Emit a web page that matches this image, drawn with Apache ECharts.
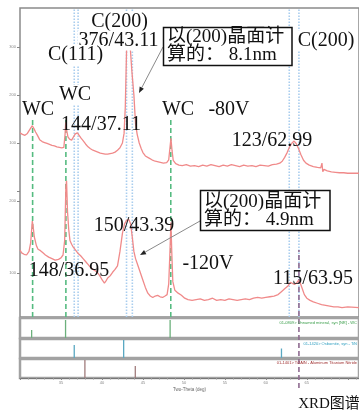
<!DOCTYPE html>
<html><head><meta charset="utf-8">
<script src="https://cdn.jsdelivr.net/npm/echarts@6/dist/echarts.min.js"></script>
<style>html,body{margin:0;padding:0;background:#fff}#c{width:359px;height:412px}</style>
</head><body><div id="c"></div>
<script>
// ---- data (2θ in degrees, intensity in counts) ----
const twoThetaUpper = [30.0,30.3,30.6,30.9,31.1,31.3,31.5,31.7,31.9,32.1,32.4,32.7,33.0,33.3,33.6,33.9,34.2,34.5,34.8,35.1,35.35,35.5,35.58,35.68,35.85,36.05,36.3,36.5,36.75,37.0,37.2,37.45,37.7,38.0,38.3,38.6,38.9,39.2,39.5,39.8,40.1,40.4,40.7,41.0,41.3,41.6,41.9,42.2,42.5,42.7,42.85,43.0,43.15,43.3,43.45,43.65,43.9,44.1,44.3,44.55,44.8,45.0,45.3,45.7,46.1,46.5,47.0,47.5,47.9,48.15,48.3,48.42,48.55,48.7,49.0,49.4,49.8,50.3,50.8,51.3,51.8,52.3,52.8,53.3,53.8,54.3,54.8,55.3,55.8,56.3,56.8,57.3,57.8,58.3,58.8,59.3,59.8,60.3,60.8,61.3,61.7,62.0,62.3,62.6,62.9,63.2,63.45,63.7,64.0,64.3,64.6,64.9,65.3,65.8,66.3,66.7,66.85,66.95,67.1,67.5,68.0,68.5,69.0,69.5,70.0,70.5,71.4];
const intensityUpper = [121,118,116,120,124,131,136,130,123,117,107,103,101,99,97,95,94,92,91,90,91,118,143,128,113,108,106,112,119,121,118,110,105,98,92,88,85,83,81,79,78,77,77,78,79,81,85,90,100,120,175,290,355,350,300,250,200,140,118,100,88,80,73,69,65,62,60,58,59,65,90,110,85,64,57,54,53,55,52,53,51,54,52,55,53,51,54,52,55,53,51,54,52,53,51,54,53,52,55,56,58,62,70,80,92,100,104,99,88,75,64,58,54,51,49,48,58,40,45,42,40,39,38,38,37,37,37];
const twoThetaLower = [30.0,30.2,30.5,30.8,31.1,31.3,31.5,31.6,31.75,32.0,32.2,32.5,32.8,33.1,33.5,33.9,34.3,34.7,35.0,35.25,35.45,35.6,35.68,35.8,35.95,36.1,36.3,36.5,36.7,36.9,37.1,37.4,37.7,38.0,38.3,38.6,38.9,39.2,39.5,39.8,40.05,40.3,40.5,40.7,41.0,41.3,41.6,41.9,42.2,42.5,42.75,43.0,43.3,43.5,43.7,43.9,44.1,44.4,44.7,45.0,45.3,45.6,45.9,46.2,46.5,46.8,47.1,47.4,47.7,47.95,48.15,48.3,48.42,48.52,48.65,48.9,49.3,49.7,50.1,50.5,51.0,51.5,52.0,52.5,53.0,53.5,54.0,54.5,55.0,55.5,56.0,56.5,57.0,57.5,58.0,58.5,59.0,59.5,60.0,60.5,61.0,61.5,61.9,62.3,62.7,63.0,63.2,63.5,63.75,64.0,64.2,64.45,64.7,65.0,65.4,65.8,66.3,66.8,67.3,67.8,68.3,68.8,69.3,70.0,71.4];
const intensityLower = [132,128,126,125,130,142,172,165,150,138,133,131,128,125,122,120,118,119,121,125,145,220,228,185,160,145,140,136,135,130,127,124,120,116,112,108,105,103,100,95,90,86,89,93,96,101,105,110,130,155,168,173,174,168,150,130,120,110,100,90,80,72,68,66,68,69,67,66,68,70,85,130,170,130,88,76,72,69,65,63,62,63,64,62,63,65,62,63,62,64,63,62,63,64,63,65,66,65,66,67,68,70,74,78,82,87,88,84,86,90,86,78,70,65,62,60,58,56,55,54,53,53,52,53,52];
const upperTicks = [100, 200, 300];
const lowerTicks = [100, 200];
const xTickLabels = [35, 40, 45, 50, 55, 60, 65];
const wcRefLines = [31.54, 35.6, 48.4];
const blueRefLines = [36.62, 37.09, 43.0, 43.71, 62.86, 64.04];
const purpleRefLines = [64.04];
const wcSticks = [31.42, 35.56, 48.32];
const wcStickHeights = [40, 90, 90];
const tinSticks = [36.62, 42.65, 61.91];
const tinStickHeights = [68, 95, 50];
const tialnSticks = [37.92, 44.07];
const tialnStickHeights = [95, 63];
const refNames = ['01-0809> Unnamed mineral, syn [NR] - WC', '01-1420> Osbornite, syn - TiN', '01-1401> Ti2AlN - Aluminum Titanium Nitride'];

// ---- chart ----
const chart = echarts.init(document.getElementById('c'), null, {renderer: 'canvas', width: 359, height: 412});
const X0 = 30, X1 = 30 + 350 / 8.46;
const zip = (a, b) => a.map((v, i) => [v, b[i]]);
const SERIF = '"Liberation Serif","Times New Roman",serif';
const CJK = '"Liberation Serif","Noto Sans CJK SC",serif';

const grids = [
  {left: 20, top: 8, width: 350, height: 309, show: true, borderColor: '#8a8a8a', borderWidth: 1.5}, // 0 frame
  {left: 20, top: 47, width: 350, height: 144},  // 1 upper trace
  {left: 20, top: 201, width: 350, height: 72},  // 2 lower trace
  {left: 20, top: 318, width: 350, height: 20, show: true, borderColor: '#a2a2a2', borderWidth: 2.5}, // 3
  {left: 20, top: 339, width: 350, height: 19, show: true, borderColor: '#a2a2a2', borderWidth: 2.5}, // 4
  {left: 20, top: 359, width: 350, height: 19, show: true, borderColor: '#a2a2a2', borderWidth: 2.5}, // 5
  {left: 20, top: 250, width: 350, height: 138} // 6 purple overlay
];
const xAxes = grids.map((g, i) => ({type: 'value', gridIndex: i, min: X0, max: X1, show: false}));
xAxes[5] = {
  type: 'value', gridIndex: 5, min: X0, max: X1, interval: 5, show: true,
  axisLine: {show: true, lineStyle: {color: '#777', width: 1}},
  axisTick: {show: true, length: 2, lineStyle: {color: '#888'}},
  minorTick: {show: true, splitNumber: 5, length: 1.5, lineStyle: {color: '#999'}},
  splitLine: {show: false},
  axisLabel: {fontSize: 4, color: '#888', margin: 3, showMaxLabel: false, showMinLabel: false,
    formatter: v => xTickLabels.indexOf(v) >= 0 ? String(v) : ''},
  name: 'Two-Theta (deg)', nameLocation: 'middle', nameGap: 9,
  nameTextStyle: {fontSize: 4.5, color: '#666', fontFamily: 'Liberation Sans'}
};
const yAxes = grids.map((g, i) => ({type: 'value', gridIndex: i, min: 0, max: i >= 3 && i <= 5 ? 100 : 1, show: false}));
yAxes[1] = {type: 'value', gridIndex: 1, min: 0, max: 300, interval: 100, show: true,
  axisLine: {show: false}, splitLine: {show: false},
  axisTick: {show: true, length: 3, lineStyle: {color: '#888'}},
  axisLabel: {fontSize: 4, color: '#888', margin: 4, formatter: v => upperTicks.indexOf(v) >= 0 ? String(v) : ''}};
yAxes[2] = {type: 'value', gridIndex: 2, min: 100, max: 200, interval: 100, show: true,
  axisLine: {show: false}, splitLine: {show: false},
  axisTick: {show: true, length: 3, lineStyle: {color: '#888'}},
  axisLabel: {fontSize: 4, color: '#888', margin: 4, formatter: v => lowerTicks.indexOf(v) >= 0 ? String(v) : ''}};

const series = [];
blueRefLines.forEach(x => series.push({type: 'line', xAxisIndex: 0, yAxisIndex: 0, data: [[x, 0], [x, 1]], symbol: 'none', silent: true, z: 1,
  lineStyle: {color: '#a9cdee', width: 1.6, type: [1.5, 1.5]}}));
wcRefLines.forEach(x => series.push({type: 'line', xAxisIndex: 0, yAxisIndex: 0, data: [[x, 0], [x, 0.644]], symbol: 'none', silent: true, z: 1,
  lineStyle: {color: '#55bb80', width: 1.6, type: [5, 3]}}));
purpleRefLines.forEach(x => series.push({type: 'line', xAxisIndex: 6, yAxisIndex: 6, data: [[x, 0], [x, 1]], symbol: 'none', silent: true, z: 1,
  lineStyle: {color: '#8e6b90', width: 1.6, type: [5, 3]}}));
series.push({type: 'line', xAxisIndex: 1, yAxisIndex: 1, data: zip(twoThetaUpper, intensityUpper), symbol: 'none', clip: false, silent: true, z: 3,
  lineStyle: {color: '#f08a8a', width: 1.3}});
series.push({type: 'line', xAxisIndex: 2, yAxisIndex: 2, data: zip(twoThetaLower, intensityLower), symbol: 'none', clip: false, silent: true, z: 3,
  lineStyle: {color: '#f08a8a', width: 1.3}});
series.push({type: 'bar', xAxisIndex: 3, yAxisIndex: 3, data: zip(wcSticks, wcStickHeights), barWidth: 1.3, silent: true, itemStyle: {color: '#6cb07c'}});
series.push({type: 'bar', xAxisIndex: 4, yAxisIndex: 4, data: zip(tinSticks, tinStickHeights), barWidth: 1.3, silent: true, itemStyle: {color: '#5aa8c2'}});
series.push({type: 'bar', xAxisIndex: 5, yAxisIndex: 5, data: zip(tialnSticks, tialnStickHeights), barWidth: 1.3, silent: true, itemStyle: {color: '#a07c7c'}});

function T(text, x, y, bg, extra) {
  return Object.assign({type: 'text', z: 100, style: Object.assign({text: text, x: x, y: y, font: '20px ' + SERIF, fill: '#111',
    align: 'center', verticalAlign: 'middle', textAlign: 'center', textVerticalAlign: 'middle',
    backgroundColor: bg ? '#fff' : null, padding: bg ? [0, 1] : 0}, extra || {})});
}
function arrow(x1, y1, x2, y2) {
  const a = Math.atan2(y2 - y1, x2 - x1), L = 6, W = 2.4;
  const bx = x2 - L * Math.cos(a), by = y2 - L * Math.sin(a);
  return [
    {type: 'line', z: 99, shape: {x1: x1, y1: y1, x2: bx, y2: by}, style: {stroke: '#8a8a8a', lineWidth: 1}},
    {type: 'polygon', z: 99, shape: {points: [[x2, y2], [bx - W * Math.sin(a), by + W * Math.cos(a)], [bx + W * Math.sin(a), by - W * Math.cos(a)]]},
      style: {fill: '#222'}}
  ];
}
const graphics = [].concat(
  arrow(163, 47, 139, 93),
  arrow(200, 221, 140, 255),
  [
    T('C(200)', 119.5, 22, true),
    T('376/43.11', 118.5, 40.5, true),
    T('C(111)', 75.5, 55, true),
    T('WC', 38, 110, false),
    T('WC', 75, 95, true),
    T('144/37.11', 101, 124.5, false),
    T('WC', 178, 110, false),
    T('-80V', 229, 110, false),
    T('123/62.99', 272, 140.5, false),
    T('C(200)', 326, 40.5, true),
    T('150/43.39', 134, 225.5, false),
    T('148/36.95', 69, 271, false),
    T('-120V', 208, 263.5, false),
    T('115/63.95', 313, 279, false),
    {type: 'rect', z: 100, shape: {x: 163.5, y: 27.5, width: 128.5, height: 38}, style: {fill: '#fff', stroke: '#111', lineWidth: 1.5}},
    T('以(200)晶面计', 167, 37, false, {font: '19px ' + CJK, align: 'left', textAlign: 'left'}),
    T('算的： 8.1nm', 167, 55, false, {font: '19px ' + CJK, align: 'left', textAlign: 'left'}),
    {type: 'rect', z: 100, shape: {x: 200.5, y: 190.5, width: 129.5, height: 40}, style: {fill: '#fff', stroke: '#111', lineWidth: 1.5}},
    T('以(200)晶面计', 204, 202, false, {font: '19px ' + CJK, align: 'left', textAlign: 'left'}),
    T('算的： 4.9nm', 204, 220, false, {font: '19px ' + CJK, align: 'left', textAlign: 'left'}),
    T(refNames[0], 357, 323, false, {font: '4px "Liberation Sans"', fill: '#3a9e4a', align: 'right', textAlign: 'right'}),
    T(refNames[1], 357, 344, false, {font: '4px "Liberation Sans"', fill: '#2f9fc0', align: 'right', textAlign: 'right'}),
    T(refNames[2], 357, 363, false, {font: '4px "Liberation Sans"', fill: '#a03232', align: 'right', textAlign: 'right'}),
    T('XRD图谱', 329, 404.5, false, {font: '15px ' + CJK})
  ]
);

chart.setOption({
  animation: false,
  backgroundColor: '#fff',
  grid: grids,
  xAxis: xAxes,
  yAxis: yAxes,
  series: series,
  graphic: {elements: graphics}
});
</script>
</body></html>
